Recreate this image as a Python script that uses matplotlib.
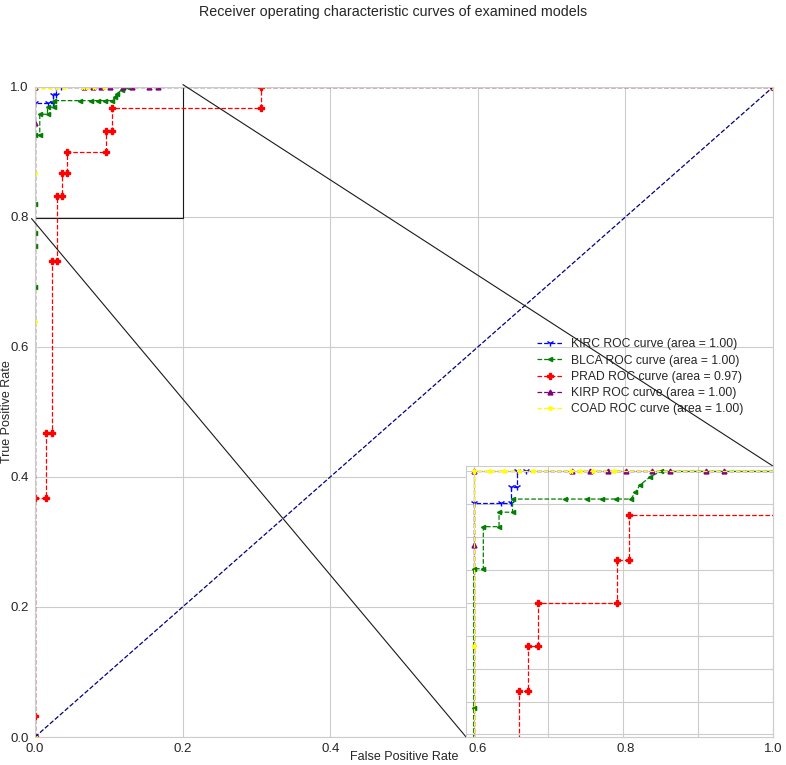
import matplotlib
matplotlib.use("Agg")
import matplotlib.pyplot as plt
import seaborn as sns
from mpl_toolkits.axes_grid1.inset_locator import mark_inset

sns.set_style("whitegrid")
plt.rcParams['font.family'] = ['Liberation Sans', 'DejaVu Sans']

# ROC points
models = ["KIRC", "BLCA", "PRAD", "KIRP", "COAD"]
areas = [1.00, 1.00, 0.97, 1.00, 1.00]

kirc_fpr = [0, 0, 0.018, 0.025, 0.025, 0.029, 0.029, 0.035, 1.0]
kirc_tpr = [0, 0.976, 0.976, 0.976, 0.988, 0.988, 1.0, 1.0, 1.0]

blca_fpr = [0, 0, 0, 0, 0, 0, 0.0065, 0.0065, 0.017, 0.017, 0.026, 0.026,
            0.061, 0.076, 0.086, 0.095, 0.105, 0.108, 0.111, 0.118, 0.125, 1.0]
blca_tpr = [0, 0.692, 0.755, 0.776, 0.82, 0.926, 0.926, 0.958, 0.958, 0.969,
            0.969, 0.979, 0.979, 0.979, 0.979, 0.979, 0.979, 0.984, 0.9895,
            0.996, 1.0, 1.0]

prad_fpr = [0, 0, 0, 0.0145, 0.0145, 0.0226, 0.0226, 0.030, 0.030, 0.036,
            0.036, 0.043, 0.043, 0.096, 0.096, 0.104, 0.104, 0.306, 0.306, 1.0]
prad_tpr = [0, 0.033, 0.367, 0.367, 0.467, 0.467, 0.733, 0.733, 0.833, 0.833,
            0.867, 0.867, 0.9, 0.9, 0.933, 0.933, 0.967, 0.967, 1.0, 1.0]

kirp_fpr = [0, 0, 0, 0.066, 0.078, 0.090, 0.102, 0.119, 0.131, 0.155, 0.167, 1.0]
kirp_tpr = [0, 0.944, 1.0, 1.0, 1.0, 1.0, 1.0, 1.0, 1.0, 1.0, 1.0, 1.0]

coad_fpr = [0, 0, 0, 0, 0.0107, 0.0203, 0.0303, 0.040, 0.065, 0.071, 0.080, 0.094, 1.0]
coad_tpr = [0, 0.639, 0.867, 1.0, 1.0, 1.0, 1.0, 1.0, 1.0, 1.0, 1.0, 1.0, 1.0]

fprs = [kirc_fpr, blca_fpr, prad_fpr, kirp_fpr, coad_fpr]
tprs = [kirc_tpr, blca_tpr, prad_tpr, kirp_tpr, coad_tpr]
colors = ["blue", "green", "red", "purple", "yellow"]
markers = ["1", "<", "P", "^", "*"]
msizes = [5, 3, 5, 3.5, 3.5]

fig = plt.figure(figsize=(7.86, 7.65), dpi=100)
ax = fig.add_axes([0.0445, 0.0366, 0.939, 0.8497])
axins = fig.add_axes([0.593, 0.0366, 0.3906, 0.354])

for a in (ax, axins):
    for name, fpr, tpr, c, m, ms, auc in zip(models, fprs, tprs, colors, markers, msizes, areas):
        a.plot(fpr, tpr, color=c, linestyle="--", lw=0.9, marker=m, markersize=ms,
               label="%s ROC curve (area = %0.2f)" % (name, auc))
ax.plot([0, 1], [0, 1], color="navy", lw=0.9, linestyle="--")

ax.set_xlim(0, 1)
ax.set_ylim(0, 1)
ax.set_xlabel("False Positive Rate", fontsize=9)
ax.set_ylabel("True Positive Rate", fontsize=9)
ax.xaxis.set_label_coords(0.5, -0.021)
ax.yaxis.set_label_coords(-0.030, 0.5)
ax.tick_params(labelsize=9.5, pad=1)
ax.legend(loc="center right", bbox_to_anchor=(0.975, 0.554), fontsize=8.7,
          frameon=False, handlelength=2.0, labelspacing=0.35)

axins.set_xlim(-0.005, 0.2)
axins.set_ylim(0.798, 1.004)
axins.set_yticks([0.8, 0.825, 0.85, 0.875, 0.9, 0.925, 0.95, 0.975, 1.0])
axins.set_xticks([0, 0.05, 0.1, 0.15, 0.2])
axins.set_xticklabels([])
axins.set_yticklabels([])
axins.tick_params(length=0)
mark_inset(ax, axins, loc1=1, loc2=3, fc="none", ec="0.1", lw=0.8)

fig.suptitle("Receiver operating characteristic curves of examined models",
             fontsize=10.3, y=0.993, color="0.15")
fig.savefig("out.png", dpi=100)
